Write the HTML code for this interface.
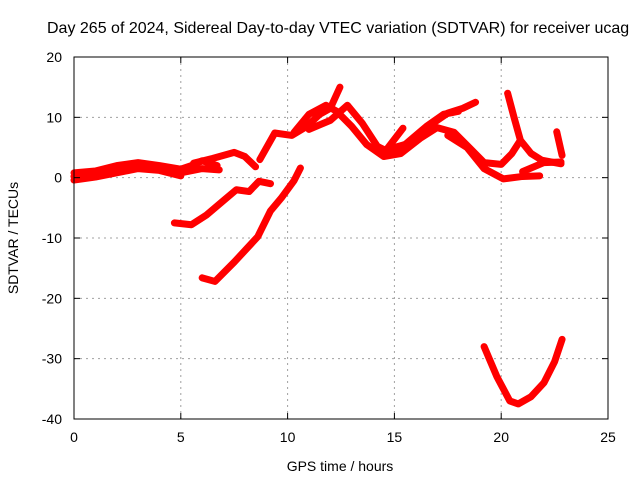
<!DOCTYPE html>
<html><head><meta charset="utf-8"><style>
body{margin:0;background:#fff}
svg{display:block;font-family:"Liberation Sans",sans-serif}
</style></head><body>
<svg id="c" width="640" height="480">
<rect width="640" height="480" fill="#fff"/>
<text x="47" y="33" font-size="16">Day 265 of 2024, Sidereal Day-to-day VTEC variation (SDTVAR) for receiver ucag</text>
<g id="grid"></g><g id="series"></g>
<rect x="74" y="57" width="534" height="362" fill="none" stroke="#000" stroke-width="1"/>
<g id="ticks"></g>
<text x="340" y="471" font-size="14" text-anchor="middle">GPS time / hours</text>
<text transform="translate(18,238) rotate(-90)" font-size="14" text-anchor="middle">SDTVAR / TECUs</text>
</svg>
<script>
const xTicks=[0,5,10,15,20,25];
const yTicks=[-40,-30,-20,-10,0,10,20];
const s1=[[0,0.8],[1,1.1],[2,2],[3,2.5],[4,2],[5,1.4],[5.5,2],[6,2.8],[6.7,2]];
const s2=[[0,-0.4],[1,0.1],[2,0.8],[3,1.5],[4,1.2],[5,0.3]];
const s2b=[[0,0.2],[1,0.5],[2,1.4],[3,2],[4,1.6],[5,0.8],[6,1.5],[6.8,1.3]];
const s3=[[5.6,2.4],[6.5,3.2],[7.5,4.2],[8,3.5],[8.5,1.8]];
const s4=[[4.7,-7.5],[5.5,-7.8],[6.2,-6.2],[7,-3.8],[7.6,-2],[8.2,-2.3],[8.66,-0.6],[9.2,-1]];
const s5=[[6,-16.6],[6.6,-17.2],[7.5,-14],[8.6,-9.8],[9.2,-5.5],[9.7,-3.4],[10.3,-0.5],[10.6,1.6]];
const s6=[[8.7,3],[9.4,7.4],[10.2,7],[10.9,8.5],[11.5,10.5],[12,11.5],[12.45,15]];
const s7=[[10.3,7.5],[11,10.5],[11.8,12],[12.3,11],[13,8.5],[13.7,5.5],[14.5,3.5],[15.3,4],[16.2,6.5],[17,8.3],[17.8,7.5],[18.5,5],[19.2,2.5],[20,2.2],[20.5,4],[20.9,6.2]];
const s8=[[11,8],[12,9.5],[12.8,12],[13.5,9],[14.2,5.2],[14.6,4.5],[15.4,8.2]];
const s9=[[14.5,4],[15.5,5.5],[16.5,8.5],[17.3,10.5],[18,11]];
const s10=[[15,5],[16,6],[16.8,9],[17.5,10.7],[18.2,11.5],[18.8,12.5]];
const s11=[[17.5,7],[18.4,5],[19.2,1.5],[20.1,-0.2],[21,0.2],[21.8,0.3]];
const s12=[[20.3,14],[20.6,10],[20.9,6.2],[21.4,4],[21.9,2.9],[22.8,2.3]];
const s13=[[21,1],[22,2.5],[22.8,2.6]];
const s14=[[22.6,7.6],[22.85,3.7]];
const s15=[[19.2,-28],[19.8,-33],[20.4,-37],[20.8,-37.5],[21.4,-36.3],[22,-34],[22.5,-30.5],[22.85,-26.8]];
const allSeries=[s1,s2,s2b,s3,s4,s5,s6,s7,s8,s9,s10,s11,s12,s13,s14,s15];
const X=h=>74+h*534/25, Y=v=>57+(20-v)*362/60;
const NS="http://www.w3.org/2000/svg";
const grid=document.getElementById('grid'),ticks=document.getElementById('ticks'),ser=document.getElementById('series');
function mk(tag,p,attrs){const e=document.createElementNS(NS,tag);for(const k in attrs)e.setAttribute(k,attrs[k]);p.appendChild(e);return e;}
xTicks.forEach(t=>{const x=X(t);
 if(t>0&&t<25){const g=mk('line',grid,{x1:x,x2:x,y1:57,y2:419,stroke:'#a0a0a0','stroke-dasharray':'2,4'});
 
 }
 mk('line',ticks,{x1:x,x2:x,y1:419,y2:413,stroke:'#000'});
 mk('line',ticks,{x1:x,x2:x,y1:57,y2:63,stroke:'#000'});
 const l=mk('text',ticks,{x:x,y:442,'font-size':14,'text-anchor':'middle'});l.textContent=t;
 
 });
yTicks.forEach(t=>{const y=Y(t);
 if(t>-40&&t<20){const g=mk('line',grid,{x1:74,x2:608,y1:y,y2:y,stroke:'#a0a0a0','stroke-dasharray':'2,4'});
 
 }
 mk('line',ticks,{x1:74,x2:80,y1:y,y2:y,stroke:'#000'});
 mk('line',ticks,{x1:608,x2:602,y1:y,y2:y,stroke:'#000'});
 const l=mk('text',ticks,{x:62,y:y+5,'font-size':14,'text-anchor':'end'});l.textContent=t;
 
 });
allSeries.forEach((s,i)=>{
 const p=mk('polyline',ser,{points:s.map(d=>X(d[0])+','+Y(d[1])).join(' '),fill:'none',stroke:'#ff0000','stroke-width':7,'stroke-linejoin':'round','stroke-linecap':'round'});
 
 
});
</script>
</body></html>
